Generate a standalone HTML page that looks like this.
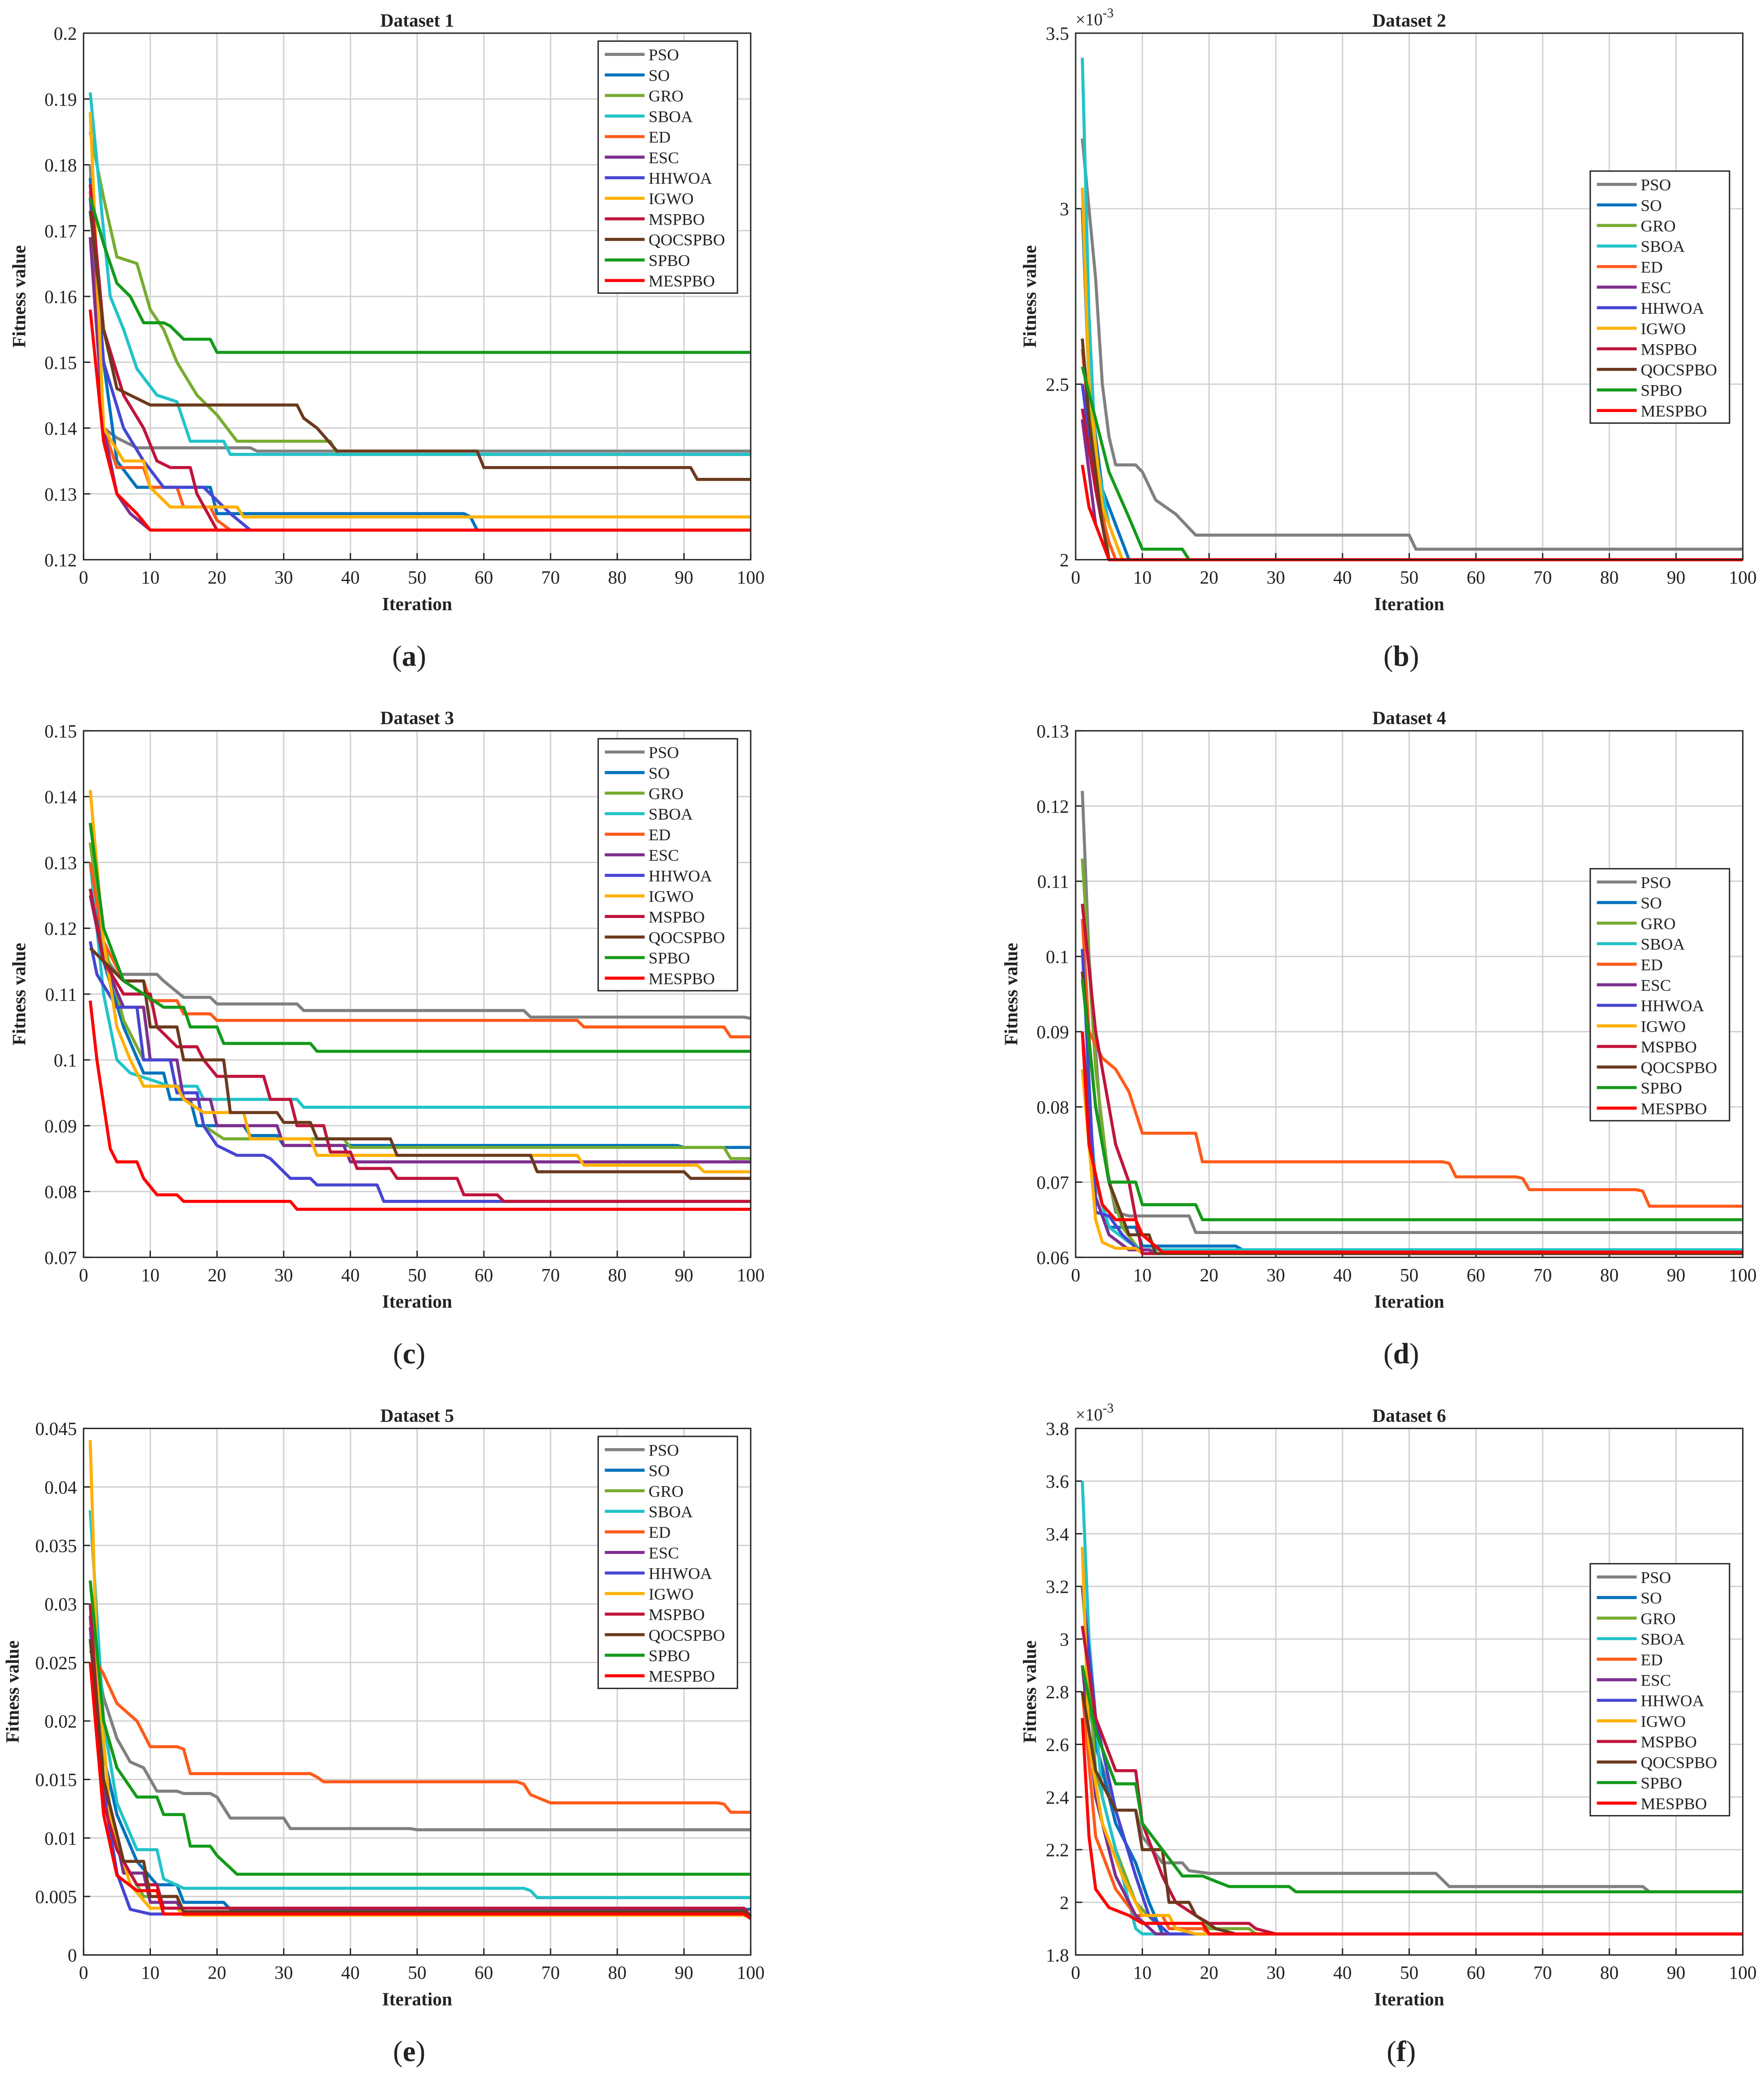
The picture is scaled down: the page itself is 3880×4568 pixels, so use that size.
<!DOCTYPE html>
<html>
<head>
<meta charset="utf-8">
<style>
html,body{margin:0;padding:0;background:#fff;}
svg{display:block;}
text{font-family:"Liberation Serif",serif;fill:#222;}
</style>
</head>
<body>
<svg id="chart" width="3880" height="4568" viewBox="0 0 1330 1566" preserveAspectRatio="none" xmlns="http://www.w3.org/2000/svg"></svg>
<script>
const seriesNames = ["PSO","SO","GRO","SBOA","ED","ESC","HHWOA","IGWO","MSPBO","QOCSPBO","SPBO","MESPBO"];
const seriesColors = ["#808080","#0072BD","#77AC30","#22C3C8","#FF5A1A","#7E2F8E","#4646D2","#FFB000","#C0143C","#6B3A1E","#139A1A","#FF0000"];
const xTicks = [0,10,20,30,40,50,60,70,80,90,100];

const yTicks1 = [0.12,0.13,0.14,0.15,0.16,0.17,0.18,0.19,0.2];
const yTicks2 = [2,2.5,3,3.5];
const yTicks3 = [0.07,0.08,0.09,0.1,0.11,0.12,0.13,0.14,0.15];
const yTicks4 = [0.06,0.07,0.08,0.09,0.1,0.11,0.12,0.13];
const yTicks5 = [0,0.005,0.01,0.015,0.02,0.025,0.03,0.035,0.04,0.045];
const yTicks6 = [1.8,2,2.2,2.4,2.6,2.8,3,3.2,3.4,3.6,3.8];

// [iteration, fitness] breakpoints per series
const data1 = [
 [[1,0.18],[3,0.14],[5,0.1385],[8,0.137],[20,0.137],[26,0.1365],[100,0.1365]],
 [[1,0.178],[3,0.15],[5,0.135],[8,0.131],[20,0.127],[58,0.1265],[59,0.1245]],
 [[1,0.185],[3,0.175],[5,0.166],[8,0.165],[10,0.158],[12,0.155],[14,0.15],[17,0.145],[20,0.142],[23,0.138],[38,0.136],[100,0.136]],
 [[1,0.191],[3,0.17],[4,0.16],[6,0.155],[8,0.149],[11,0.145],[14,0.144],[16,0.138],[22,0.136],[100,0.136]],
 [[1,0.176],[3,0.14],[5,0.134],[10,0.131],[15,0.128],[20,0.126],[22,0.1245]],
 [[1,0.169],[3,0.14],[5,0.13],[7,0.127],[10,0.1245]],
 [[1,0.175],[3,0.15],[6,0.14],[9,0.135],[12,0.131],[19,0.13],[22,0.127],[25,0.1245]],
 [[1,0.188],[3,0.14],[6,0.135],[10,0.131],[13,0.128],[24,0.1265],[100,0.1265]],
 [[1,0.177],[3,0.155],[6,0.145],[9,0.14],[11,0.135],[13,0.134],[17,0.13],[20,0.1245]],
 [[1,0.173],[3,0.155],[5,0.146],[7,0.145],[10,0.1435],[33,0.1415],[35,0.14],[38,0.1365],[60,0.134],[92,0.1322],[100,0.1322]],
 [[1,0.175],[3,0.168],[5,0.162],[7,0.16],[9,0.156],[13,0.1555],[15,0.1535],[20,0.1515],[100,0.1515]],
 [[1,0.158],[3,0.138],[5,0.13],[8,0.127],[10,0.1245],[100,0.1245]]
];
const data2 = [
 [[1,3.2],[3,2.8],[4,2.5],[5,2.35],[6,2.27],[10,2.25],[12,2.17],[15,2.13],[18,2.07],[50,2.07],[51,2.03],[100,2.03]],
 [[1,3.0],[2,2.5],[4,2.2],[6,2.1],[8,2.0]],
 [[1,2.6],[3,2.3],[5,2.0]],
 [[1,3.43],[2,2.7],[3,2.3],[5,2.1],[7,2.0]],
 [[1,2.6],[3,2.2],[5,2.05],[6,2.0]],
 [[1,2.4],[3,2.1],[5,2.0]],
 [[1,2.5],[3,2.2],[5,2.0]],
 [[1,3.06],[2,2.5],[4,2.15],[6,2.05],[7,2.0]],
 [[1,2.43],[3,2.2],[5,2.0]],
 [[1,2.63],[2,2.4],[4,2.1],[5,2.0]],
 [[1,2.55],[3,2.4],[5,2.25],[8,2.12],[10,2.03],[16,2.03],[17,2.0]],
 [[1,2.27],[2,2.15],[4,2.05],[5,2.0],[100,2.0]]
];
const data3 = [
 [[1,0.126],[3,0.116],[5,0.113],[12,0.112],[15,0.1095],[20,0.1085],[33,0.1075],[67,0.1065],[100,0.1063]],
 [[1,0.13],[3,0.115],[6,0.105],[9,0.098],[13,0.094],[17,0.09],[25,0.0885],[30,0.087],[90,0.0867],[100,0.0867]],
 [[1,0.133],[3,0.118],[6,0.106],[9,0.1],[14,0.095],[18,0.09],[21,0.088],[40,0.0867],[97,0.085],[100,0.085]],
 [[1,0.13],[3,0.11],[5,0.1],[7,0.098],[10,0.097],[13,0.096],[18,0.094],[33,0.0928],[100,0.0928]],
 [[1,0.13],[3,0.118],[6,0.112],[10,0.109],[15,0.107],[20,0.106],[75,0.105],[97,0.1035],[100,0.1035]],
 [[1,0.125],[3,0.115],[6,0.108],[10,0.1],[15,0.094],[20,0.09],[30,0.087],[40,0.0845],[100,0.0845]],
 [[1,0.118],[2,0.113],[5,0.108],[9,0.1],[14,0.095],[18,0.09],[20,0.087],[23,0.0855],[28,0.085],[31,0.082],[35,0.081],[45,0.0785],[100,0.0785]],
 [[1,0.141],[3,0.118],[5,0.105],[7,0.1],[9,0.096],[15,0.094],[18,0.092],[25,0.088],[35,0.0855],[75,0.084],[93,0.083],[100,0.083]],
 [[1,0.126],[3,0.115],[6,0.11],[11,0.105],[14,0.102],[18,0.1],[20,0.0975],[28,0.094],[32,0.09],[37,0.086],[41,0.0835],[47,0.082],[57,0.0795],[63,0.0785],[100,0.0785]],
 [[1,0.117],[3,0.115],[6,0.112],[10,0.105],[15,0.1],[22,0.092],[30,0.0905],[35,0.088],[47,0.0855],[68,0.083],[91,0.082],[100,0.082]],
 [[1,0.136],[3,0.12],[6,0.112],[9,0.11],[12,0.108],[16,0.105],[21,0.1025],[35,0.1013],[100,0.1013]],
 [[1,0.109],[2,0.1],[4,0.0865],[5,0.0845],[9,0.082],[11,0.0795],[15,0.0785],[32,0.0773],[100,0.0773]]
];
const data4 = [
 [[1,0.122],[2,0.1],[4,0.075],[6,0.066],[8,0.0655],[18,0.0633],[100,0.0633]],
 [[1,0.09],[3,0.07],[5,0.064],[10,0.0615],[25,0.061],[100,0.0607]],
 [[1,0.113],[3,0.085],[5,0.07],[7,0.064],[10,0.0605]],
 [[1,0.09],[3,0.07],[5,0.064],[8,0.062],[10,0.061]],
 [[1,0.105],[2,0.09],[4,0.0865],[6,0.085],[8,0.082],[10,0.0765],[18,0.0765],[19,0.0727],[56,0.0725],[57,0.0707],[67,0.0705],[68,0.069],[85,0.0688],[86,0.0668],[100,0.0668]],
 [[1,0.09],[3,0.068],[5,0.063],[8,0.061],[12,0.0605]],
 [[1,0.101],[3,0.066],[5,0.0655],[7,0.063],[10,0.0605]],
 [[1,0.085],[3,0.065],[4,0.062],[6,0.0612],[10,0.0605]],
 [[1,0.107],[3,0.09],[6,0.075],[8,0.07],[10,0.0605]],
 [[1,0.098],[3,0.08],[5,0.07],[8,0.063],[12,0.0605]],
 [[1,0.097],[3,0.08],[5,0.07],[10,0.067],[18,0.067],[19,0.065],[100,0.065]],
 [[1,0.09],[2,0.075],[4,0.067],[6,0.065],[10,0.063],[13,0.0607],[100,0.0607]]
];
const data5 = [
 [[1,0.028],[3,0.022],[5,0.0185],[7,0.0165],[9,0.016],[11,0.014],[15,0.0138],[20,0.0135],[22,0.0117],[31,0.0108],[50,0.0107],[100,0.0107]],
 [[1,0.027],[3,0.017],[5,0.012],[8,0.008],[11,0.006],[15,0.0045],[22,0.0039],[100,0.0039]],
 [[1,0.03],[3,0.015],[6,0.008],[9,0.005],[15,0.0035],[100,0.0033]],
 [[1,0.038],[3,0.02],[5,0.013],[8,0.009],[12,0.0065],[15,0.0057],[67,0.0055],[68,0.0049],[100,0.0049]],
 [[1,0.026],[3,0.024],[5,0.0215],[8,0.02],[10,0.0178],[15,0.0176],[16,0.0155],[35,0.0152],[36,0.0148],[66,0.0146],[67,0.0137],[70,0.013],[96,0.0129],[97,0.0122],[100,0.0122]],
 [[1,0.028],[3,0.015],[6,0.007],[10,0.0045],[15,0.0035],[100,0.0032]],
 [[1,0.029],[3,0.014],[5,0.007],[7,0.0039],[10,0.0035],[100,0.0032]],
 [[1,0.044],[2,0.025],[4,0.012],[7,0.006],[10,0.004],[15,0.0034],[100,0.0032]],
 [[1,0.03],[3,0.013],[5,0.009],[8,0.006],[12,0.004],[100,0.0033]],
 [[1,0.027],[3,0.015],[6,0.008],[10,0.005],[15,0.0037],[100,0.0033]],
 [[1,0.032],[3,0.02],[5,0.016],[8,0.0135],[12,0.012],[16,0.0093],[20,0.0085],[23,0.0069],[100,0.0069]],
 [[1,0.025],[3,0.012],[5,0.0068],[8,0.0055],[12,0.0035],[100,0.0031]]
];
const data6 = [
 [[1,3.2],[3,2.6],[6,2.35],[10,2.25],[13,2.15],[17,2.12],[20,2.11],[54,2.11],[56,2.06],[85,2.06],[86,2.04],[100,2.04]],
 [[1,2.9],[3,2.6],[6,2.3],[9,2.15],[11,2.0],[13,1.88]],
 [[1,3.2],[3,2.5],[6,2.2],[9,2.0],[12,1.92],[20,1.9],[27,1.88]],
 [[1,3.6],[2,3.0],[4,2.4],[7,2.1],[9,1.9],[10,1.88]],
 [[1,2.8],[3,2.25],[6,2.05],[9,1.95],[14,1.9],[20,1.88]],
 [[1,2.9],[3,2.4],[6,2.1],[9,1.95],[12,1.88]],
 [[1,3.2],[3,2.7],[6,2.35],[9,2.1],[11,1.95],[14,1.88]],
 [[1,3.35],[2,2.6],[4,2.3],[7,2.1],[10,1.95],[15,1.9],[18,1.88]],
 [[1,3.05],[3,2.7],[6,2.5],[10,2.3],[13,2.1],[15,2.0],[18,1.95],[20,1.92],[27,1.9],[30,1.88]],
 [[1,2.8],[3,2.5],[6,2.35],[10,2.2],[14,2.0],[18,1.95],[21,1.9],[24,1.88]],
 [[1,2.9],[3,2.65],[6,2.45],[10,2.3],[13,2.2],[16,2.1],[20,2.09],[23,2.06],[33,2.04],[100,2.04]],
 [[1,2.7],[2,2.25],[3,2.05],[5,1.98],[8,1.95],[10,1.92],[20,1.88],[100,1.88]]
];

const NS = "http://www.w3.org/2000/svg";
const svg = document.getElementById('chart');
function mk(tag, attrs, parent){
  const e = document.createElementNS(NS, tag);
  for (const k in attrs) e.setAttribute(k, attrs[k]);
  (parent||svg).appendChild(e);
  return e;
}

const panels = [
 {title:"Dataset 1", letter:"a", x0:63, y0:25, ticks:yTicks1, data:data1, leg:[451,31], exp:false},
 {title:"Dataset 2", letter:"b", x0:811, y0:25, ticks:yTicks2, data:data2, leg:[1199,129], exp:true},
 {title:"Dataset 3", letter:"c", x0:63, y0:551, ticks:yTicks3, data:data3, leg:[451,557], exp:false},
 {title:"Dataset 4", letter:"d", x0:811, y0:551, ticks:yTicks4, data:data4, leg:[1199,655], exp:false},
 {title:"Dataset 5", letter:"e", x0:63, y0:1077, ticks:yTicks5, data:data5, leg:[451,1083], exp:false},
 {title:"Dataset 6", letter:"f", x0:811, y0:1077, ticks:yTicks6, data:data6, leg:[1199,1179], exp:true}
];
const W = 503, H = 397;

panels.forEach((p, pi) => {
  const g = mk('g', {});
  
  
  const ymin = p.ticks[0], ymax = p.ticks[p.ticks.length-1];
  const sx = v => p.x0 + (v - 0) / 100 * W;
  const sy = v => p.y0 + H - (v - ymin) / (ymax - ymin) * H;

  mk('rect', {x:p.x0, y:p.y0, width:W, height:H, fill:'#fff'}, g);
  xTicks.forEach(t => {
    const l = mk('line', {x1:sx(t), x2:sx(t), y1:p.y0, y2:p.y0+H, stroke:'#d0d0d0', 'stroke-width':1}, g);
    
    
    const tx = mk('text', {x:sx(t), y:p.y0+H+18, 'font-size':14, 'text-anchor':'middle'}, g);
    tx.textContent = t;
    
    
    mk('line', {x1:sx(t), x2:sx(t), y1:p.y0+H, y2:p.y0+H-5, stroke:'#222', 'stroke-width':1}, g);
  });
  p.ticks.forEach(t => {
    const l = mk('line', {x1:p.x0, x2:p.x0+W, y1:sy(t), y2:sy(t), stroke:'#d0d0d0', 'stroke-width':1}, g);
    
    
    const tx = mk('text', {x:p.x0-5, y:sy(t)+5, 'font-size':14, 'text-anchor':'end'}, g);
    tx.textContent = String(t);
    
    
    mk('line', {x1:p.x0, x2:p.x0+5, y1:sy(t), y2:sy(t), stroke:'#222', 'stroke-width':1}, g);
  });
  p.data.forEach((s, si) => {
    const pts = s.slice();
    if (pts[pts.length-1][0] < 100) pts.push([100, pts[pts.length-1][1]]);
    const out = [[pts[0][0], pts[0][1]]];
    for (let i = 1; i < pts.length; i++) {
      const prev = pts[i-1], cur = pts[i];
      if (cur[0] - prev[0] > 3) out.push([cur[0]-1, prev[1]]);
      out.push([cur[0], cur[1]]);
    }
    const d = out.map(q => sx(q[0]).toFixed(2) + ',' + sy(q[1]).toFixed(2)).join(' ');
    const pl = mk('polyline', {points:d, fill:'none', stroke:seriesColors[si], 'stroke-width':2.3, 'stroke-linejoin':'round'}, g);
    
    
  });
  mk('rect', {x:p.x0, y:p.y0, width:W, height:H, fill:'none', stroke:'#222', 'stroke-width':1}, g);
  const ti = mk('text', {x:p.x0+W/2, y:p.y0-5, 'font-size':14, 'font-weight':'bold', 'text-anchor':'middle'}, g);
  ti.textContent = p.title;
  
  
  const xl = mk('text', {x:p.x0+W/2, y:p.y0+H+38, 'font-size':14, 'font-weight':'bold', 'text-anchor':'middle'}, g);
  xl.textContent = 'Iteration';
  
  
  const yx = p.x0 - (pi===4 ? 49 : (p.exp ? 30 : 44));
  const yl = mk('text', {x:yx, y:p.y0+H/2, 'font-size':14, 'font-weight':'bold', 'text-anchor':'middle', transform:'rotate(-90 '+yx+' '+(p.y0+H/2)+')'}, g);
  yl.textContent = 'Fitness value';
  
  
  if (p.exp) {
    const ex = mk('text', {x:p.x0, y:p.y0-6, 'font-size':13}, g);
    ex.innerHTML = '×10<tspan dy="-6" font-size="10">-3</tspan>';
    
    
  }
  const lt = mk('text', {x:p.x0+W/2-6, y:p.y0+H+80, 'font-size':22, 'text-anchor':'middle'}, g);
  lt.innerHTML = '(<tspan font-weight="bold">' + p.letter + '</tspan>)';
  
  
  const lg = mk('g', {}, g);
  
  
  mk('rect', {x:p.leg[0], y:p.leg[1], width:105, height:190, fill:'#fff', stroke:'#222', 'stroke-width':1}, lg);
  seriesNames.forEach((n, i) => {
    const yy = p.leg[1] + 10 + i*15.5;
    const e = mk('g', {}, lg);
    
    
    mk('line', {x1:p.leg[0]+5, x2:p.leg[0]+35, y1:yy, y2:yy, stroke:seriesColors[i], 'stroke-width':2.3}, e);
    const t = mk('text', {x:p.leg[0]+38, y:yy+4.5, 'font-size':12.5}, e);
    t.textContent = n;
  });
});
</script>
</body>
</html>
